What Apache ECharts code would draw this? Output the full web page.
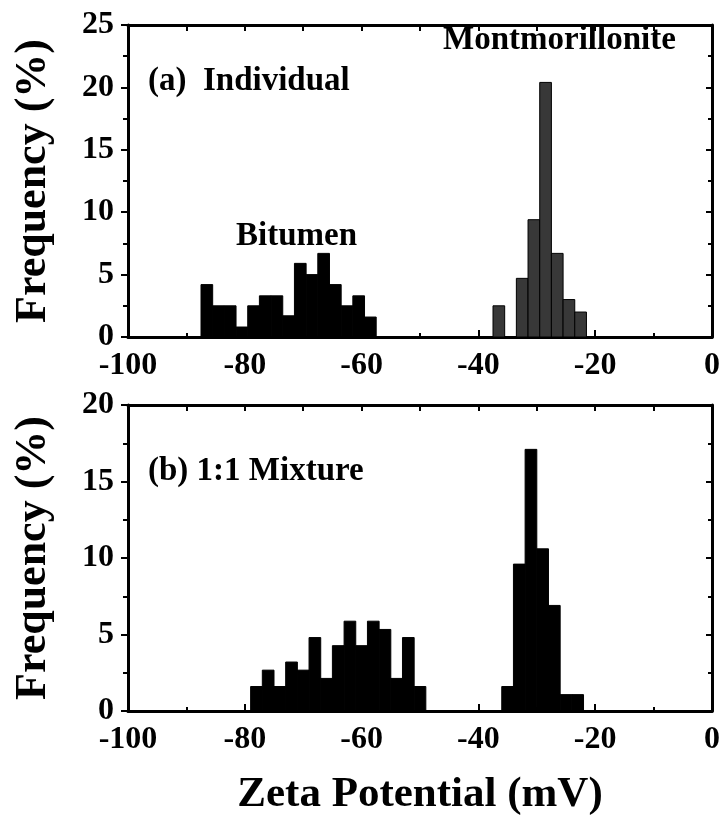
<!DOCTYPE html>
<html>
<head>
<meta charset="utf-8">
<script src="https://cdn.jsdelivr.net/npm/echarts@6/dist/echarts.min.js"></script>
<style>
html,body{margin:0;padding:0;background:#fff;}
#chart{width:726px;height:827px;}
</style>
</head>
<body>
<div id="chart"></div>
<script>
// ---- data (bin centres in mV, frequency in %) ----
const BIN_WIDTH = 2;
const xTicks = [-100, -80, -60, -40, -20, 0];

const topBitumenX = [-86.5, -84.5, -82.5, -80.5, -78.5, -76.5, -74.5, -72.5, -70.5, -68.5, -66.5, -64.5, -62.5, -60.5, -58.5];
const topBitumenY = [4.2, 2.5, 2.5, 0.8, 2.5, 3.3, 3.3, 1.7, 5.9, 5.0, 6.7, 4.2, 2.5, 3.3, 1.6];

const topMontX = [-36.5, -34.5, -32.5, -30.5, -28.5, -26.5, -24.5, -22.5];
const topMontY = [2.5, 0, 4.7, 9.4, 20.4, 6.7, 3.0, 2.0];

const mixBitumenX = [-78, -76, -74, -72, -70, -68, -66, -64, -62, -60, -58, -56, -54, -52, -50];
const mixBitumenY = [1.6, 2.67, 1.6, 3.2, 2.67, 4.8, 2.13, 4.27, 5.87, 4.27, 5.87, 5.33, 2.13, 4.8, 1.6];

const mixMontX = [-35, -33, -31, -29, -27, -25, -23];
const mixMontY = [1.6, 9.6, 17.1, 10.6, 6.9, 1.07, 1.07];

// ---- helpers ----
const FONT = 'Liberation Serif';
function pairs(xs, ys) { return xs.map((x, i) => [x, ys[i]]); }
function histSeries(xs, ys, xi, yi, fill) {
  return {
    type: 'custom',
    xAxisIndex: xi, yAxisIndex: yi,
    data: pairs(xs, ys),
    encode: { x: 0, y: 1 },
    clip: true,
    z: 3,
    renderItem: function (params, api) {
      const x = api.value(0), y = api.value(1);
      const p0 = api.coord([x - BIN_WIDTH / 2, y]);
      const p1 = api.coord([x + BIN_WIDTH / 2, 0]);
      return {
        type: 'rect',
        shape: { x: p0[0], y: p0[1], width: p1[0] - p0[0], height: p1[1] - p0[1] },
        style: { fill: fill, stroke: '#000', lineWidth: 1 }
      };
    }
  };
}
const axisLineStyle = { show: true, onZero: false, lineStyle: { color: '#000', width: 3 } };
const labelStyle = { color: '#000', fontFamily: FONT, fontWeight: 'bold', fontSize: 32 };

function xAxisPair(grid, withName) {
  return [
    {
      gridIndex: grid, type: 'value', position: 'bottom', min: -100, max: 0, interval: 20,
      axisLine: axisLineStyle,
      axisTick: { show: true, inside: true, length: 7, lineStyle: { color: '#000', width: 2 } },
      minorTick: { show: true, splitNumber: 2, length: 4, lineStyle: { color: '#000', width: 2 } },
      splitLine: { show: false },
      axisLabel: Object.assign({ margin: 13 }, labelStyle),
      name: withName ? 'Zeta Potential (mV)' : '',
      nameLocation: 'middle', nameGap: 62,
      nameTextStyle: { color: '#000', fontFamily: FONT, fontWeight: 'bold', fontSize: 43 }
    },
    {
      gridIndex: grid, type: 'value', position: 'top', min: -100, max: 0, interval: 20,
      axisLine: axisLineStyle,
      axisTick: { show: true, inside: true, length: 6, lineStyle: { color: '#000', width: 2 } },
      minorTick: { show: true, splitNumber: 2, length: 6, lineStyle: { color: '#000', width: 2 } },
      splitLine: { show: false }, axisLabel: { show: false }
    }
  ];
}
function yAxisPair(grid, max) {
  return [
    {
      gridIndex: grid, type: 'value', position: 'left', min: 0, max: max, interval: 5,
      axisLine: axisLineStyle,
      axisTick: { show: true, inside: false, length: 7, lineStyle: { color: '#000', width: 2 } },
      minorTick: { show: true, splitNumber: 2, length: 5, lineStyle: { color: '#000', width: 2 } },
      splitLine: { show: false },
      axisLabel: Object.assign({ margin: 14 }, labelStyle),
      name: 'Frequency (%)', nameLocation: 'middle', nameGap: 72, nameRotate: 90,
      nameTextStyle: { color: '#000', fontFamily: FONT, fontWeight: 'bold', fontSize: 44 }
    },
    {
      gridIndex: grid, type: 'value', position: 'right', min: 0, max: max, interval: 5,
      axisLine: axisLineStyle,
      axisTick: { show: true, inside: true, length: 6, lineStyle: { color: '#000', width: 2 } },
      minorTick: { show: true, splitNumber: 2, length: 4, lineStyle: { color: '#000', width: 2 } },
      splitLine: { show: false }, axisLabel: { show: false }
    }
  ];
}

const annStyle = { fill: '#000', fontFamily: FONT, fontWeight: 'bold', fontSize: 33 };
const chart = echarts.init(document.getElementById('chart'), null, { renderer: 'canvas' });
chart.setOption({
  animation: false,
  backgroundColor: '#fff',
  grid: [
    { left: 128, right: 14, top: 25, height: 312 },
    { left: 128, right: 14, top: 405, height: 306 }
  ],
  xAxis: xAxisPair(0, false).concat(xAxisPair(1, true)),
  yAxis: yAxisPair(0, 25).concat(yAxisPair(1, 20)),
  series: [
    histSeries(topBitumenX, topBitumenY, 0, 0, '#000'),
    histSeries(topMontX, topMontY, 0, 0, '#383838'),
    histSeries(mixBitumenX, mixBitumenY, 2, 2, '#000'),
    histSeries(mixMontX, mixMontY, 2, 2, '#000')
  ],
  graphic: [
    { type: 'text', left: 148, top: 65, style: Object.assign({ text: '(a)  Individual' }, annStyle) },
    { type: 'text', left: 443, top: 24, style: Object.assign({ text: 'Montmorillonite' }, annStyle) },
    { type: 'text', left: 236, top: 220, style: Object.assign({ text: 'Bitumen' }, annStyle) },
    { type: 'text', left: 148, top: 455, style: Object.assign({ text: '(b) 1:1 Mixture' }, annStyle) }
  ]
});
</script>
</body>
</html>
